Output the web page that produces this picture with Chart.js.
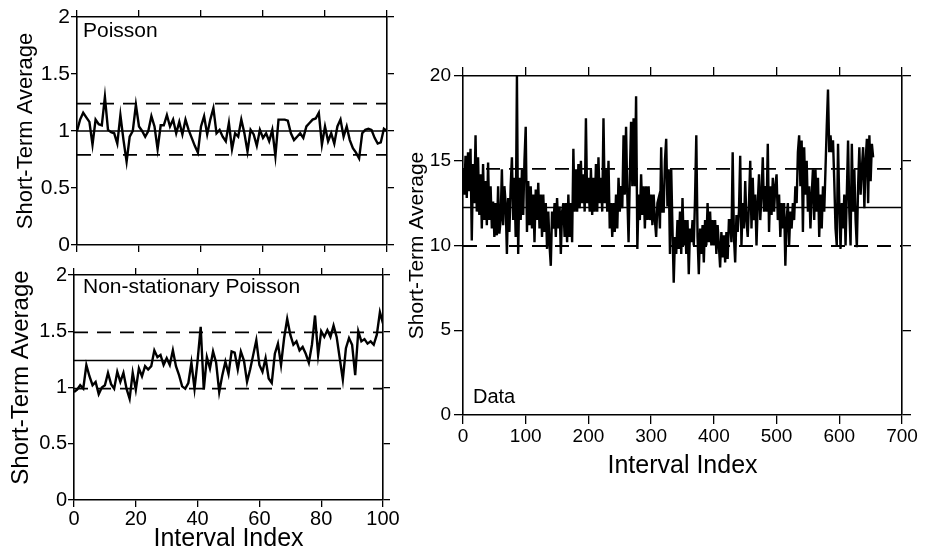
<!DOCTYPE html>
<html>
<head>
<meta charset="utf-8">
<script src="https://cdn.jsdelivr.net/npm/chart.js@4.4.0/dist/chart.umd.min.js"></script>
<style>
  html, body { margin: 0; padding: 0; background: #fff; }
  #wrap { position: relative; width: 941px; height: 554px; overflow: hidden; }
  canvas { position: absolute; left: 0; top: 0; }
</style>
</head>
<body>
<div id="wrap">
  <canvas id="poisson" width="941" height="554"></canvas>
  <canvas id="nonstat" width="941" height="554"></canvas>
  <canvas id="data" width="941" height="554"></canvas>
</div>
<script>
// ---- data ----
// Poisson, interval index 0..100
const poissonValues = [
  1.00, 1.10, 1.16, 1.12, 1.08, 0.88, 1.10, 1.06, 1.05, 1.30,
  1.01, 0.99, 0.98, 0.89, 1.14, 0.92, 0.73, 0.95, 1.00, 1.23,
  1.04, 1.00, 0.95, 1.00, 1.13, 1.04, 0.84, 1.05, 1.05, 1.14,
  1.04, 1.10, 0.98, 1.08, 0.97, 1.10, 1.01, 0.94, 0.87, 0.81,
  1.04, 1.13, 0.97, 1.10, 1.20, 0.98, 1.01, 0.95, 0.91, 1.07,
  0.84, 0.98, 0.95, 1.10, 0.98, 0.82, 1.01, 0.97, 0.87, 1.01,
  0.94, 0.98, 0.91, 1.01, 0.78, 1.10, 1.10, 1.10, 1.09, 0.98,
  0.92, 0.95, 0.98, 0.94, 1.04, 1.07, 1.10, 1.11, 1.16, 0.88,
  1.04, 0.91, 0.98, 0.89, 1.04, 1.10, 0.95, 1.04, 0.92, 0.85,
  0.81, 0.76, 0.98, 1.01, 1.02, 1.01, 0.94, 0.89, 0.90, 1.02,
  1.00
];
// Non-stationary Poisson, interval index 0..100
const nonstatValues = [
  0.96, 0.98, 1.02, 0.99, 1.20, 1.10, 1.02, 1.05, 0.94, 1.00,
  1.02, 1.13, 1.03, 0.99, 1.14, 1.05, 1.13, 0.99, 0.90, 1.13,
  0.98, 1.17, 1.10, 1.19, 1.16, 1.19, 1.33, 1.27, 1.29, 1.20,
  1.26, 1.20, 1.33, 1.19, 1.11, 1.01, 0.99, 1.04, 1.22, 0.99,
  1.24, 1.54, 0.98, 1.27, 1.17, 1.32, 1.22, 0.96, 1.11, 1.23,
  1.12, 1.32, 1.31, 1.16, 1.32, 1.24, 1.05, 1.16, 1.29, 1.42,
  1.20, 1.14, 1.26, 1.08, 1.04, 1.30, 1.39, 1.20, 1.44, 1.61,
  1.47, 1.38, 1.41, 1.33, 1.36, 1.30, 1.22, 1.38, 1.64, 1.29,
  1.50, 1.45, 1.51, 1.45, 1.55, 1.45, 1.26, 1.07, 1.35, 1.44,
  1.38, 1.11, 1.50, 1.41, 1.43, 1.39, 1.41, 1.38, 1.47, 1.67,
  1.57
];
// Recorded data, every 2nd interval index 0..654
const dataStep = 2;
const dataValues = [
  14.5, 13.0, 15.3, 12.8, 15.5, 13.2, 15.7, 10.3, 14.8, 12.5,
  16.5, 12.0, 15.2, 11.8, 14.2, 11.0, 14.8, 11.5, 13.8, 11.2,
  14.9, 11.5, 13.5, 11.0, 12.6, 10.5, 12.5, 10.6, 13.5, 10.7,
  11.5, 14.5, 11.2, 13.5, 12.5, 9.5, 12.8, 10.8, 13.5, 15.2,
  11.5, 14.0, 10.5, 20.0, 9.5, 14.0, 11.5, 14.5, 11.8, 15.0,
  17.0, 10.8, 13.8, 11.2, 13.5, 11.0, 13.0, 10.2, 13.3, 11.5,
  13.7, 11.0, 13.0, 10.5, 13.0, 10.8, 12.5, 9.8, 12.0, 10.0,
  8.8, 12.0, 11.0, 12.5, 10.5, 12.8, 11.0, 12.3, 9.5, 12.0,
  12.5, 10.5, 12.5, 10.2, 13.0, 10.5, 12.5, 10.2, 15.7, 12.0,
  14.5, 12.0, 14.8, 12.2, 15.0, 12.5, 14.2, 12.0, 17.5, 12.5,
  14.0, 12.0, 14.5, 11.8, 14.0, 12.0, 14.8, 12.0, 15.2, 12.5,
  14.0, 12.0, 17.5, 12.5, 14.5, 12.0, 15.0, 11.0, 12.5, 10.5,
  12.5, 10.8, 13.0, 11.0, 14.0, 12.0, 13.5, 12.2, 16.5, 13.0,
  17.0, 13.0, 10.2, 14.0, 17.3, 13.5, 17.5, 13.5, 18.8, 9.8,
  13.0, 11.5, 14.2, 11.8, 13.5, 11.0, 13.5, 11.5, 13.5, 11.5,
  13.0, 11.2, 13.0, 11.5, 10.5, 12.5, 12.8, 11.0, 15.8, 12.0,
  12.0, 15.0, 16.3, 12.3, 14.5, 9.5, 14.5, 11.0, 7.8, 10.5,
  9.5, 11.5, 9.8, 12.0, 9.5, 12.8, 10.0, 11.5, 9.5, 11.5,
  8.3, 11.0, 10.2, 11.5, 10.0, 12.8, 16.5, 10.5, 8.3, 11.0,
  9.5, 11.2, 9.0, 11.5, 10.0, 12.5, 10.2, 12.0, 10.0, 11.5,
  10.0, 11.5, 9.5, 11.2, 10.0, 8.7, 10.8, 9.3, 10.6, 9.0,
  10.8, 9.2, 11.5, 11.5, 10.2, 15.5, 10.5, 9.0, 11.8, 10.8,
  12.0, 15.3, 10.0, 12.5, 11.0, 13.8, 11.5, 10.5, 12.5, 15.0,
  11.0, 14.0, 11.5, 13.0, 10.0, 12.5, 14.2, 11.5, 13.0, 15.2,
  12.0, 13.5, 12.0, 16.0, 10.8, 13.5, 11.8, 14.0, 12.0, 13.5,
  14.2, 11.5, 13.0, 10.5, 12.5, 11.0, 12.5, 8.8, 11.5, 12.5,
  10.0, 12.0, 11.0, 12.5, 11.5, 13.5, 12.5, 15.5, 16.5, 13.5,
  16.2, 10.8, 15.8, 13.0, 15.0, 12.0, 13.5, 11.0, 13.0, 14.5,
  11.5, 14.5, 12.0, 14.0, 10.5, 13.0, 11.0, 13.5, 12.0, 14.5,
  17.0, 19.2, 15.5, 16.5, 15.5, 16.2, 13.8, 11.0, 10.0, 16.0,
  12.5, 9.8, 12.5, 11.0, 13.0, 10.0, 13.0, 16.2, 12.0, 10.0,
  16.0, 12.0, 14.5, 11.5, 9.9, 13.5, 15.8, 13.0, 14.5, 15.8,
  12.2, 15.0, 16.3, 12.5, 16.5, 13.8, 16.0, 15.2
];
// [lower dashed, mean, upper dashed]
const poissonBands = [0.79, 1.0, 1.24];
const nonstatBands = [0.99, 1.24, 1.49];
const dataBands = [9.97, 12.24, 14.52];

const smallXTicks = [0, 20, 40, 60, 80, 100];
const smallYTicks = [0, 0.5, 1, 1.5, 2];
const dataXTicks = [0, 100, 200, 300, 400, 500, 600, 700];
const dataYTicks = [0, 5, 10, 15, 20];

const FONT = '"Liberation Sans", Arial, Helvetica, sans-serif';

function series(values, step) {
  return values.map((v, i) => ({ x: i * step, y: v }));
}
function level(v, xmax) {
  return [{ x: 0, y: v }, { x: xmax, y: v }];
}

function axis(ax, position, min, max, ticks, o) {
  return {
    type: 'linear', axis: ax, position, min, max,
    afterBuildTicks: s => { s.ticks = ticks.map(v => ({ value: v })); },
    afterFit: s => { if (ax === 'x') s.height = o.size; else s.width = o.size; },
    grid: { drawOnChartArea: false, drawTicks: true, tickLength: o.tick, color: '#000', lineWidth: 1.3 },
    border: { display: true, color: '#000', width: 1.6 },
    ticks: {
      display: !!o.labels, color: '#000', padding: o.pad || 0, autoSkip: false, maxRotation: 0,
      font: { family: FONT, size: o.tickSize || 20 }, callback: v => String(v)
    },
    title: o.title
      ? { display: true, text: o.title, color: '#000', font: { family: FONT, size: o.titleSize }, padding: o.titlePad }
      : { display: false }
  };
}

const panelLabel = {
  id: 'panelLabel',
  afterDraw(chart, args, o) {
    const { ctx, chartArea } = chart;
    ctx.save();
    ctx.fillStyle = '#000';
    ctx.font = o.size + 'px ' + FONT;
    ctx.textBaseline = 'alphabetic';
    const y = o.fromBottom ? chartArea.bottom - o.dy : chartArea.top + o.dy;
    ctx.fillText(o.text, chartArea.left + o.dx, y);
    ctx.restore();
  }
};

function makePanel(id, p) {
  const xmax = p.xTicks[p.xTicks.length - 1];
  const ymax = p.yTicks[p.yTicks.length - 1];
  new Chart(document.getElementById(id), {
    type: 'line',
    data: {
      datasets: [
        { data: series(p.values, p.step), borderColor: '#000', borderWidth: p.traceWidth, pointRadius: 0, tension: 0 },
        { data: level(p.bands[1], xmax), borderColor: '#000', borderWidth: 1.4, pointRadius: 0 },
        { data: level(p.bands[2], xmax), borderColor: '#000', borderWidth: 1.8, borderDash: [14, 9], pointRadius: 0 },
        { data: level(p.bands[0], xmax), borderColor: '#000', borderWidth: 1.8, borderDash: [14, 9], pointRadius: 0 }
      ]
    },
    options: {
      responsive: false,
      animation: false,
      devicePixelRatio: 1,
      layout: { padding: p.padding },
      plugins: {
        legend: { display: false },
        tooltip: { enabled: false },
        panelLabel: p.label
      },
      scales: {
        x: axis('x', 'bottom', 0, xmax, p.xTicks, p.xAxis),
        x2: axis('x', 'top', 0, xmax, p.xTicks, { size: p.edge, tick: p.edgeTick }),
        y: axis('y', 'left', 0, ymax, p.yTicks, p.yAxis),
        y2: axis('y', 'right', 0, ymax, p.yTicks, { size: p.edge, tick: p.edgeTick })
      }
    },
    plugins: [panelLabel]
  });
}

// Poisson: plot area 77..387 x 17..245
makePanel('poisson', {
  values: poissonValues, step: 1, bands: poissonBands, traceWidth: 2.4,
  xTicks: smallXTicks, yTicks: smallYTicks,
  padding: { left: 10, right: 544, top: 7, bottom: 289 },
  edge: 10, edgeTick: 7,
  xAxis: { size: 20, tick: 7 },
  yAxis: { size: 67, tick: 6, pad: 1, labels: true, tickSize: 21,
           title: 'Short-Term Average', titleSize: 22, titlePad: { top: 3, bottom: 0 } },
  label: { text: 'Poisson', size: 21, dx: 6, dy: 20 }
});

// Non-stationary Poisson: plot area 74..383 x 275..500
makePanel('nonstat', {
  values: nonstatValues, step: 1, bands: nonstatBands, traceWidth: 2.4,
  xTicks: smallXTicks, yTicks: smallYTicks,
  padding: { left: 6, right: 548, top: 265, bottom: 0 },
  edge: 10, edgeTick: 7,
  xAxis: { size: 54, tick: 7, pad: 0, labels: true, tickSize: 20,
           title: 'Interval Index', titleSize: 25, titlePad: { top: 0, bottom: 0 } },
  yAxis: { size: 68, tick: 6, pad: 1, labels: true, tickSize: 20,
           title: '   Short-Term Average', titleSize: 24, titlePad: { top: 0.5, bottom: 0 } },
  label: { text: 'Non-stationary Poisson', size: 21, dx: 9, dy: 18 }
});

// Data: plot area 463..902 x 76..415
makePanel('data', {
  values: dataValues, step: dataStep, bands: dataBands, traceWidth: 2.4,
  xTicks: dataXTicks, yTicks: dataYTicks,
  padding: { left: 400, right: 27, top: 64, bottom: 70 },
  edge: 12, edgeTick: 9,
  xAxis: { size: 69, tick: 9, pad: 1, labels: true, tickSize: 19,
           title: 'Interval Index', titleSize: 25, titlePad: { top: 0, bottom: 2.6 } },
  yAxis: { size: 63, tick: 9, pad: 3, labels: true, tickSize: 19,
           title: 'Short-Term Average', titleSize: 21, titlePad: { top: 4.4, bottom: 0 } },
  label: { text: 'Data', size: 20, dx: 10, dy: 12, fromBottom: true }
});
</script>
</body>
</html>
